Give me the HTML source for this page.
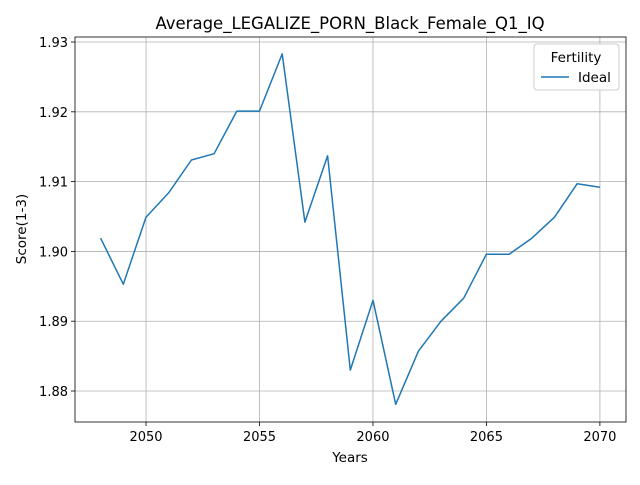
<!DOCTYPE html>
<html><head><meta charset="utf-8"><style>
body{margin:0;background:#fff;font-family:"Liberation Sans","DejaVu Sans",sans-serif}
svg text{font-family:"DejaVu Sans","Liberation Sans",sans-serif}
</style></head><body>
<svg id="chart" width="640" height="480" xmlns="http://www.w3.org/2000/svg">
<rect width="640" height="480" fill="#fff"/>
<g id="grid"></g>
<g id="xt"></g>
<g id="yt"></g>
<path id="line" fill="none" stroke="#1f77b4" stroke-width="1.5" stroke-linejoin="round"/>
<rect x="75" y="37" width="551" height="385" fill="none" stroke="#000" stroke-width="0.8"/>
<text x="350" y="29" font-size="16.5" text-anchor="middle">Average_LEGALIZE_PORN_Black_Female_Q1_IQ</text>
<text x="350" y="462" font-size="13.5" text-anchor="middle">Years</text>
<text transform="translate(26,229) rotate(-90)" font-size="13.5" text-anchor="middle">Score(1-3)</text>
<g>
<rect x="534" y="44" width="85" height="46" rx="3" fill="#fff" stroke="#ccc"/>
<text x="576" y="62" font-size="13.5" text-anchor="middle">Fertility</text>
<line x1="541" y1="77" x2="569" y2="77" stroke="#1f77b4" stroke-width="1.5"/>
<text x="578" y="82" font-size="13.5">Ideal</text>
</g>
</svg>
<script>
const years=[2048,2049,2050,2051,2052,2053,2054,2055,2056,2057,2058,2059,2060,2061,2062,2063,2064,2065,2066,2067,2068,2069,2070];
const ideal=[1.9019,1.8953,1.9049,1.9084,1.9131,1.9140,1.9201,1.9201,1.9283,1.9042,1.9137,1.8830,1.8930,1.8781,1.8857,1.8900,1.8933,1.8996,1.8996,1.9019,1.9049,1.9097,1.9092];
const xTicks=[2050,2055,2060,2065,2070];
const yTicks=[1.88,1.89,1.90,1.91,1.92,1.93];
const X0=75,X1=626,Y0=37,Y1=422,xmin=2046.87,xmax=2071.15,ymin=1.87556,ymax=1.93072;
const sx=v=>X0+(v-xmin)/(xmax-xmin)*(X1-X0);
const sy=v=>Y1-(v-ymin)/(ymax-ymin)*(Y1-Y0);
const NS="http://www.w3.org/2000/svg";
const grid=document.getElementById('grid'),xt=document.getElementById('xt'),yt=document.getElementById('yt');
function mk(t,a,p){const e=document.createElementNS(NS,t);for(const k in a)e.setAttribute(k,a[k]);p.appendChild(e);return e;}
xTicks.forEach(v=>{const x=sx(v);
const g=mk('line',{x1:x,x2:x,y1:Y0,y2:Y1,stroke:'#b0b0b0','stroke-width':0.8},grid);


mk('line',{x1:x,x2:x,y1:Y1,y2:Y1+4,stroke:'#000','stroke-width':0.8},xt);
const t=mk('text',{x:x,y:Y1+19,'font-size':13,'text-anchor':'middle'},xt);t.textContent=v;

});
yTicks.forEach(v=>{const y=sy(v);
const g=mk('line',{x1:X0,x2:X1,y1:y,y2:y,stroke:'#b0b0b0','stroke-width':0.8},grid);


mk('line',{x1:X0-4,x2:X0,y1:y,y2:y,stroke:'#000','stroke-width':0.8},yt);
const t=mk('text',{x:X0-7,y:y+5,'font-size':13,'text-anchor':'end'},yt);t.textContent=v.toFixed(2);

});
document.getElementById('line').setAttribute('d',years.map((y,i)=>(i?'L':'M')+sx(y).toFixed(1)+','+sy(ideal[i]).toFixed(1)).join(''));
</script>
</body></html>
